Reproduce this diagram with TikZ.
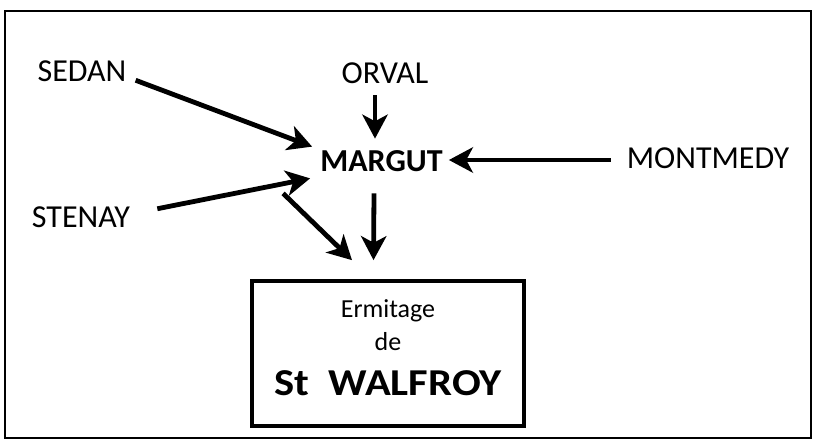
\documentclass[tikz,border=0pt]{standalone}
\usepackage{fontspec}
\usepackage{graphicx}
\setmainfont{Carlito}
\usetikzlibrary{arrows.meta,calc}

\begin{document}
\begin{tikzpicture}[x=0.75pt, y=-0.75pt,
    town/.style = {inner sep=0pt, font=\fontsize{24}{29}\selectfont},
    line/.style = {inner sep=0pt, anchor=base, font=\fontsize{19.5}{23}\selectfont},
    arr/.style = {line width=3.6pt, -{Stealth[length=18pt, width=19pt, inset=5pt]}}]
	\useasboundingbox (0,0) rectangle (816,443);
	\fill[white] (0,0) rectangle (816,443);
	\draw[line width=1.4pt] (5,11) rectangle (811,438);
	\node[town] (sedan) at (82,71.5) {SEDAN};
	\node[town] (orval) at (385,73.5) {ORVAL};
	\node[town, font=\fontsize{24}{29}\selectfont\bfseries] (margut) at (381.5,161.5) {MARGUT};
	\node[town] (montmedy) at (708,158) {MONTMEDY};
	\node[town] (stenay) at (81,217.5) {STENAY};
	\node[draw, line width=2.8pt, minimum width=204pt, minimum height=108.75pt] (walfroy) at (388,353.5) {};
	\node[line] (ermitage) at (388,317) {Ermitage};
	\node[line] (de) at (388,350) {de};
	\node[line, font=\fontsize{28.5}{34}\selectfont\bfseries] (saint) at (388,395) {\scalebox{1.12}[1]{St\hspace{0.45em}WALFROY}};
	\draw[arr] ($(sedan.south east)+(9,-2)$) -- ($(margut.north west)+(-8,-4)$);
	\draw[arr] ($(orval.south)+(-10,11)$) -- ($(margut.north)+(-6.5,-12)$);
	\draw[arr] ($(montmedy.west)+(-16,2)$) -- ($(margut.east)+(6,-1.5)$);
	\draw[arr] ($(stenay.north east)+(27,2)$) -- ($(margut.south west)+(-10,6)$);
	\draw[arr] ($(margut.south west)+(-37,21)$) -- ($(walfroy.north)+(-36,-19)$);
	\draw[arr] ($(margut.south)+(-7.5,21)$) -- ($(walfroy.north)+(-14.5,-19)$);
\end{tikzpicture}
\end{document}
